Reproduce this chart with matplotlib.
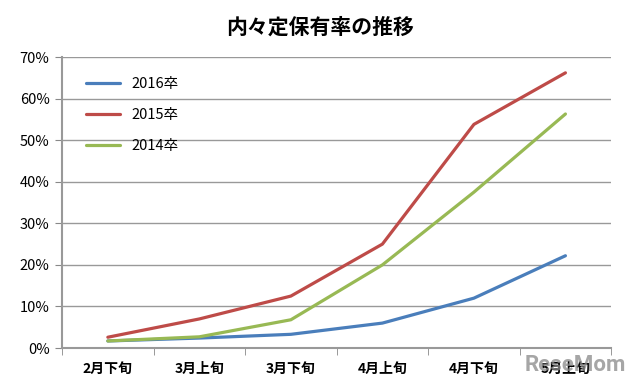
import matplotlib.pyplot as plt
from matplotlib.ticker import FuncFormatter

plt.rcParams['font.family'] = ['Noto Sans CJK JP', 'DejaVu Sans']

categories = ['2月下旬', '3月上旬', '3月下旬', '4月上旬', '4月下旬', '5月上旬']
y2016 = [1.7, 2.4, 3.3, 6.0, 12.0, 22.2]
y2015 = [2.6, 7.0, 12.5, 25.0, 53.8, 66.2]
y2014 = [1.7, 2.7, 6.8, 20.0, 37.5, 56.3]

fig = plt.figure(figsize=(6.4, 3.88), dpi=100)
ax = fig.add_axes([0.097, 0.103, 0.858, 0.75])

x = range(len(categories))
ax.plot(x, y2016, color='#4A7EBB', lw=2.3, label='2016卒', solid_capstyle='round')
ax.plot(x, y2015, color='#BE4B48', lw=2.3, label='2015卒', solid_capstyle='round')
ax.plot(x, y2014, color='#98B954', lw=2.3, label='2014卒', solid_capstyle='round')

ax.set_xlim(-0.5, len(categories) - 0.5)
ax.set_ylim(0, 70)
ax.set_yticks(range(0, 71, 10))
ax.yaxis.set_major_formatter(FuncFormatter(lambda v, p: f'{int(v)}%'))
ax.set_xticks(x)
ax.set_xticklabels(categories, fontsize=10, fontweight='bold')
ax.set_xticks([i - 0.5 for i in range(len(categories) + 1)], minor=True)
ax.tick_params(axis='x', which='major', length=0, pad=10)
ax.tick_params(axis='x', which='minor', length=5, color='#888888', direction='out')
ax.tick_params(axis='y', length=5, color='#888888', labelsize=10.5, pad=4)
ax.grid(axis='y', color='#999999', lw=1)
ax.set_axisbelow(True)
for s in ['top', 'right']:
    ax.spines[s].set_visible(False)
for s in ['left', 'bottom']:
    ax.spines[s].set_color('#999999')
    ax.spines[s].set_linewidth(1.5)

ax.legend(loc='upper left', bbox_to_anchor=(0.02, 0.975), frameon=False,
          fontsize=10.5, labelspacing=1.15, handlelength=2.3)

fig.text(0.5, 0.93, '内々定保有率の推移', ha='center', va='center',
         fontsize=15, fontweight='bold')
fig.text(0.978, 0.06, 'ReseMom', ha='right', va='center', fontsize=16,
         family='Roboto', fontweight='bold', color='#888888', alpha=0.75)

fig.savefig('out.png', dpi=100)
